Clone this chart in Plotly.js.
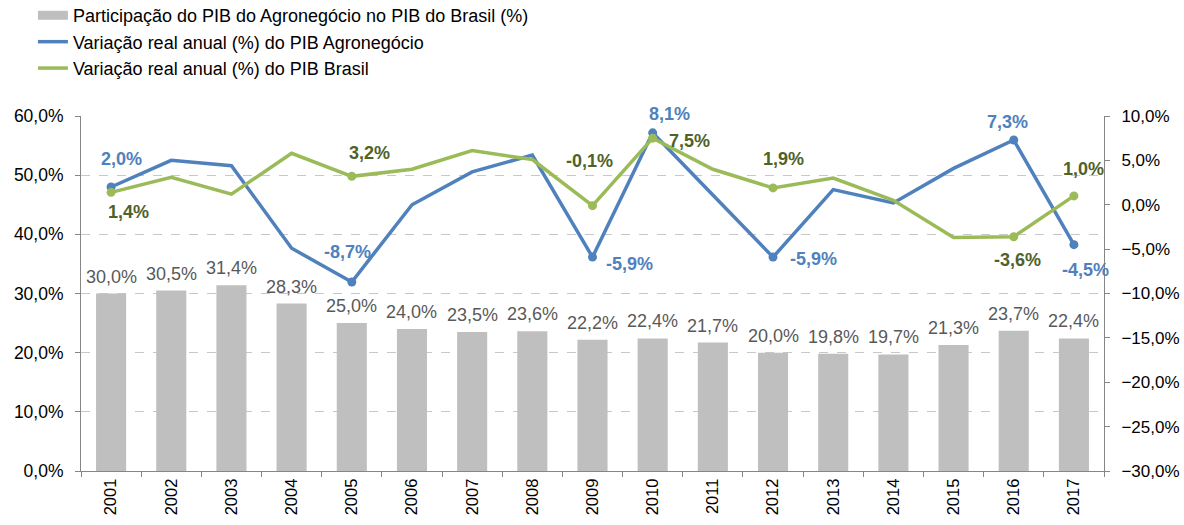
<!DOCTYPE html>
<html><head><meta charset="utf-8">
<script src="https://cdn.plot.ly/plotly-3.0.1.min.js"></script>
<style>html,body{margin:0;padding:0;background:#fff}#chart{width:1184px;height:525px}</style>
</head><body><div id="chart"></div>
<script>
// ---- data ----
const years = ['2001','2002','2003','2004','2005','2006','2007','2008','2009','2010','2011','2012','2013','2014','2015','2016','2017'];
const participacao = [30.0,30.5,31.4,28.3,25.0,24.0,23.5,23.6,22.2,22.4,21.7,20.0,19.8,19.7,21.3,23.7,22.4];
const varAgro = [2.0,5.0,4.4,-4.9,-8.7,0.0,3.7,5.6,-5.9,8.1,1.1,-5.9,1.7,0.2,4.1,7.3,-4.5];
const varBrasil = [1.4,3.1,1.2,5.8,3.2,4.0,6.1,5.1,-0.1,7.5,4.0,1.9,3.0,0.5,-3.7,-3.6,1.0];
const labeledYears = ['2001','2005','2009','2010','2012','2016','2017'];
const nameBar = 'Participação do PIB do Agronegócio no PIB do Brasil (%)';
const nameAgro = 'Variação real anual (%) do PIB Agronegócio';
const nameBrasil = 'Variação real anual (%) do PIB Brasil';

// ---- styles ----
const cBar = '#BFBFBF', cAgro = '#4F81BD', cBrasil = '#9BBB59', cBrasilTxt = '#4F6228';
const FONT = 'Liberation Sans, Arial, sans-serif';
// label offsets in px [dx, dy(up positive)]
const offAgro = {'2001':[10,28],'2005':[-4,30],'2009':[37,-7],'2010':[17,19],'2012':[40,-2],'2016':[-6,18],'2017':[12,-25]};
const offBrasil = {'2001':[17,-20],'2005':[18,23],'2009':[-3,45],'2010':[37,-3],'2012':[10,29],'2016':[4,-23],'2017':[10,27]};

const fmt = v => v.toFixed(1).replace('.', ',') + '%';
const labIdx = labeledYears.map(y => years.indexOf(y));

const traces = [
  {type:'bar', x:years, y:participacao, marker:{color:cBar}, showlegend:false, name:nameBar, yaxis:'y', hoverinfo:'skip'},
  {type:'scatter', x:years, y:varAgro, yaxis:'y2', mode:'lines', name:nameAgro,
   line:{color:cAgro, width:3.5}, legendrank:2, legendgroup:'b'},
  {type:'scatter', x:years, y:varBrasil, yaxis:'y2', mode:'lines', name:nameBrasil,
   line:{color:cBrasil, width:3.5}, legendrank:3, legendgroup:'c'},
  {type:'scatter', x:labIdx.map(i => years[i]), y:labIdx.map(i => varAgro[i]), yaxis:'y2', mode:'markers',
   showlegend:false, marker:{color:cAgro, size:9}, hoverinfo:'skip'},
  {type:'scatter', x:labIdx.map(i => years[i]), y:labIdx.map(i => varBrasil[i]), yaxis:'y2', mode:'markers',
   showlegend:false, marker:{color:cBrasil, size:9}, hoverinfo:'skip'},
  // legend-only stand-in for the bar series (wide swatch)
  {type:'scatter', x:years, y:years.map(() => null), mode:'lines', name:nameBar, legendrank:1, legendgroup:'a',
   line:{color:cBar, width:9}, hoverinfo:'skip'}
];

const annotations = [];
years.forEach((y, i) => {
  annotations.push({x:i, y:participacao[i], xref:'x', yref:'y', text:fmt(participacao[i]),
    showarrow:false, yanchor:'middle', yshift:17, font:{family:FONT, size:18, color:'#595959'}});
});
labIdx.forEach(i => {
  const y = years[i], oa = offAgro[y], ob = offBrasil[y];
  annotations.push({x:i, y:varAgro[i], xref:'x', yref:'y2', text:'<b>'+fmt(varAgro[i])+'</b>',
    showarrow:false, xshift:oa[0], yshift:oa[1], font:{family:FONT, size:18, color:cAgro}});
  annotations.push({x:i, y:varBrasil[i], xref:'x', yref:'y2', text:'<b>'+fmt(varBrasil[i])+'</b>',
    showarrow:false, xshift:ob[0], yshift:ob[1], font:{family:FONT, size:18, color:cBrasilTxt}});
});

const layout = {
  width:1184, height:525,
  margin:{l:81, r:80, t:116, b:54, autoexpand:false},
  paper_bgcolor:'#fff', plot_bgcolor:'#fff',
  font:{family:FONT, size:16, color:'#000'},
  separators:',.',
  bargap:0.5,
  showlegend:true,
  legend:{x:-0.047, y:1.335, xanchor:'left', yanchor:'top',
    traceorder:'grouped', tracegroupgap:0, font:{family:FONT, size:18, color:'#000'}, bgcolor:'rgba(0,0,0,0)'},
  xaxis:{type:'category', range:[-0.5, 16.5], showline:true, linecolor:'#868686', linewidth:1, ticks:'outside', ticklen:5,
    tickcolor:'#868686', tickson:'boundaries', tickangle:-90, tickfont:{size:16.5, color:'#000'}, showgrid:false},
  yaxis:{range:[0,60], dtick:10, tick0:0, ticksuffix:'%', tickformat:'.1f', showline:true, linecolor:'#868686',
    ticks:'outside', ticklen:5, tickcolor:'#868686', showgrid:true, gridcolor:'#C8C8C8', griddash:'dash',
    zeroline:false, ticklabelstandoff:8, tickfont:{size:17.5, color:'#000'}},
  yaxis2:{range:[-30,10], dtick:5, tick0:0, ticksuffix:'%', tickformat:'.1f', overlaying:'y', side:'right',
    showline:true, linecolor:'#868686', ticks:'outside', ticklen:5, tickcolor:'#868686', showgrid:false,
    zeroline:false, ticklabelstandoff:8, tickfont:{size:17, color:'#000'}},
  annotations:annotations
};

Plotly.newPlot('chart', traces, layout, {displayModeBar:false, staticPlot:true});
</script>
</body></html>
